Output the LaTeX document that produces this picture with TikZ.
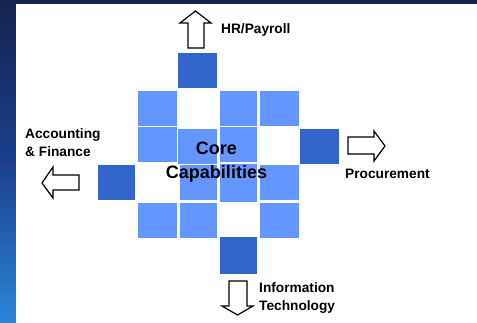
\documentclass[tikz,border=0pt]{standalone}
\usepackage{fontspec}
\setmainfont{Liberation Sans}
\definecolor{lightsq}{HTML}{6496FF}
\definecolor{darksq}{HTML}{3266CA}
\definecolor{bgtop}{HTML}{14244F}
\definecolor{bgbot}{HTML}{2A86D8}
\definecolor{bgmid}{HTML}{1B3F8E}
\begin{document}
\begin{tikzpicture}[x=1pt,y=-1pt,
  sq/.style={inner sep=0pt,outer sep=0pt,minimum width=#1,minimum height=35pt},
  lt/.style={sq=#1,fill=lightsq},
  dk/.style={sq=#1,fill=darksq},
  blockarrow/.style={draw=black,fill=white,line width=1.2pt,line join=miter},
  lbl/.style={font=\fontsize{13.7}{18}\selectfont\bfseries,inner sep=0pt,align=left,anchor=west}]
\useasboundingbox (0,0) rectangle (477,322);
% background
\shade[top color=bgtop,bottom color=bgbot,middle color=bgmid] (0,0) rectangle (16,322);
\fill[bgtop] (16,0) rectangle (477,3.5);
\fill[white] (16,3.5) rectangle (477,322);
% squares
\node[dk=39pt] (t) at (197.5,70.5) {};
\node[lt=39pt] (a1) at (157.5,108.5) {};
\node[lt=37pt] (a3) at (238.5,108.5) {};
\node[lt=39pt] (a4) at (279.5,108.5) {};
\node[lt=39pt] (b1) at (157.5,144.5) {};
\node[lt=39pt] (b2) at (197.5,146.5) {};
\node[lt=37pt] (b3) at (238.5,144.5) {};
\node[dk=39pt] (r) at (319.5,146.5) {};
\node[dk=37pt] (l) at (116.5,182.5) {};
\node[lt=37pt] (c2) at (198.5,182.5) {};
\node[lt=37pt,minimum height=38pt] (c3) at (238.5,183) {};
\node[lt=39pt] (c4) at (279.5,182.5) {};
\node[lt=39pt] (d1) at (157.5,220.5) {};
\node[lt=37pt] (d2) at (198.5,220.5) {};
\node[lt=39pt] (d4) at (279.5,220.5) {};
\node[dk=37pt,minimum height=37pt] (b) at (238.5,255.5) {};
% center text
\node[font=\fontsize{18}{24}\selectfont\bfseries,align=center,inner sep=0pt] (core) at (216.5,162) {Core\\Capabilities};
% arrows
\draw[blockarrow] (195.5,11) -- (211,23) -- (204,23) -- (204,48) -- (188,48) -- (188,23) -- (180,23) -- cycle;
\draw[blockarrow] (42,183) -- (53,167) -- (53,175) -- (79,175) -- (79,190) -- (53,190) -- (53,198) -- cycle;
\draw[blockarrow] (385,146) -- (374,131) -- (374,137) -- (348,137) -- (348,154) -- (374,154) -- (374,161) -- cycle;
\draw[blockarrow] (237.5,315) -- (253,306) -- (247,306) -- (247,281) -- (229,281) -- (229,306) -- (222,306) -- cycle;
% labels
\node[lbl] (hr) at (221,30) {HR/Payroll};
\node[lbl] (acc) at (25,143) {Accounting\\\& Finance};
\node[lbl] (proc) at (345,174) {Procurement};
\node[lbl] (it) at (259,298) {Information\\Technology};
\end{tikzpicture}
\end{document}
